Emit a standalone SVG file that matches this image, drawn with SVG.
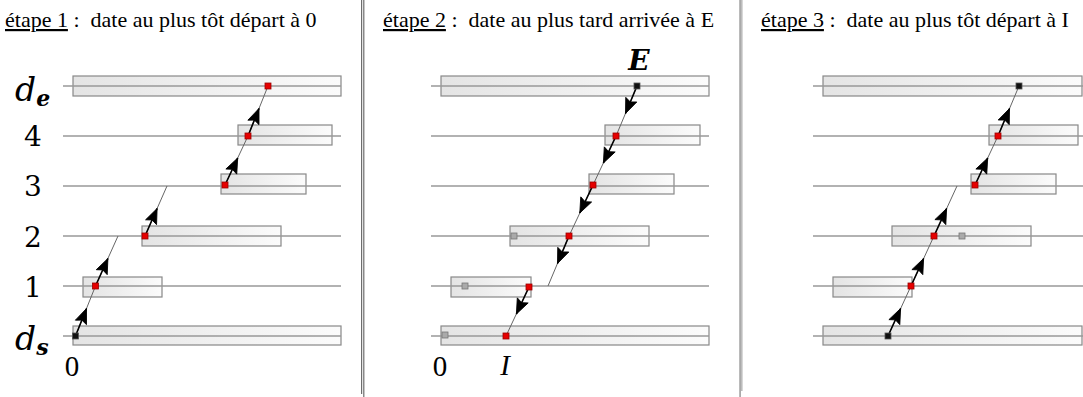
<svg xmlns="http://www.w3.org/2000/svg" width="1083" height="397" viewBox="0 0 1083 397">
<defs>
<linearGradient id="bg" x1="0" y1="0" x2="1" y2="0">
<stop offset="0" stop-color="#e4e4e4"/>
<stop offset="1" stop-color="#fbfbfb"/>
</linearGradient>
<marker id="ah" markerUnits="userSpaceOnUse" markerWidth="20" markerHeight="16" viewBox="-16 -8 17 16" refX="0" refY="0" orient="auto">
<path d="M0,0 L-15,-6 L-12.5,0 L-15,6 Z" fill="#000" stroke="#000" stroke-width="0.8" stroke-linejoin="miter"/>
</marker>
</defs>
<style>
.title{font-family:"Liberation Serif","Times New Roman",serif;font-size:22px;fill:#000;white-space:pre}
.num{font-family:"DejaVu Serif",serif;font-size:28px;fill:#000}
.mi{font-family:"DejaVu Serif",serif;font-style:italic;fill:#000}
.axis{font-family:"Liberation Serif","Times New Roman",serif;font-size:29px;fill:#000}
.row{stroke:#999;stroke-width:1.5;fill:none}
.bar{fill:url(#bg);stroke:#888;stroke-width:1.2}
.red{fill:#e60000;stroke:#900;stroke-width:0.8}
.blk{fill:#111;stroke:#555;stroke-width:0.8}
.gry{fill:#aaa;stroke:#777;stroke-width:0.8}
.thin{stroke:#666;stroke-width:1;fill:none}
.arr{stroke:#000;stroke-width:1.6;fill:none;marker-end:url(#ah)}
</style>
<rect width="1083" height="397" fill="#fff"/>

<g id="separators">
<rect x="361" y="0" width="1.2" height="394" fill="#6e6e6e"/>
<rect x="363.2" y="0" width="1.2" height="397" fill="#6e6e6e"/>
<rect x="739.2" y="0" width="1.8" height="397" fill="#aaa"/>
<rect x="741" y="0" width="1.6" height="391" fill="#bdbdbd"/>
</g>

<g id="titles">
<text class="title" x="5" y="27" xml:space="preserve"><tspan text-decoration="underline">étape 1</tspan> :  date au plus tôt départ à 0</text>
<text class="title" x="383" y="27" xml:space="preserve"><tspan text-decoration="underline">étape 2</tspan> :  date au plus tard arrivée à E</text>
<text class="title" x="761" y="27" xml:space="preserve"><tspan text-decoration="underline">étape 3</tspan> :  date au plus tôt départ à I</text>
</g>

<g id="labels">
<text class="mi" x="15" y="101" font-size="33">d<tspan font-size="22" font-weight="bold" dy="5">e</tspan></text>
<text class="num" x="33" y="146" text-anchor="middle">4</text>
<text class="num" x="33" y="196" text-anchor="middle">3</text>
<text class="num" x="33" y="247" text-anchor="middle">2</text>
<text class="num" x="33" y="297" text-anchor="middle">1</text>
<text class="mi" x="15" y="350" font-size="33">d<tspan font-size="22" font-weight="bold" dy="5">s</tspan></text>
<text class="axis" x="72" y="376" text-anchor="middle">0</text>
<text class="mi" x="639" y="70" font-size="28" font-weight="bold" text-anchor="middle" font-family="Liberation Serif">E</text>
<text class="axis" x="440" y="376" text-anchor="middle">0</text>
<text class="axis" x="505" y="375" text-anchor="middle" font-style="italic">I</text>
</g>

<!-- PANEL 1 -->
<g id="p1-rows">
<rect class="bar" x="73" y="76" width="268" height="20"/>
<rect class="bar" x="238" y="125" width="94" height="20"/>
<rect class="bar" x="221" y="174" width="85" height="20"/>
<rect class="bar" x="142" y="226" width="139" height="20"/>
<rect class="bar" x="83" y="277" width="79" height="20"/>
<rect class="bar" x="73" y="326" width="268" height="19"/>
<line class="row" x1="63" y1="86" x2="341" y2="86"/>
<line class="row" x1="63" y1="136" x2="341" y2="136"/>
<line class="row" x1="63" y1="186" x2="341" y2="186"/>
<line class="row" x1="63" y1="236" x2="341" y2="236"/>
<line class="row" x1="63" y1="286" x2="341" y2="286"/>
<line class="row" x1="63" y1="336" x2="341" y2="336"/>
</g>
<g id="p1-connectors">
<line class="thin" x1="75.5" y1="336" x2="95.5" y2="286"/>
<line class="arr" x1="75.5" y1="336" x2="86.5" y2="308.5"/>
<line class="thin" x1="95.5" y1="286" x2="118" y2="236"/>
<line class="arr" x1="95.5" y1="286" x2="107.9" y2="258.5"/>
<line class="thin" x1="145" y1="236" x2="167" y2="186"/>
<line class="arr" x1="145" y1="236" x2="157.1" y2="208.5"/>
<line class="thin" x1="225" y1="185" x2="248" y2="136"/>
<line class="arr" x1="225" y1="185" x2="237.7" y2="158"/>
<line class="thin" x1="248" y1="136" x2="268" y2="86"/>
<line class="arr" x1="248" y1="136" x2="259" y2="108.5"/>
</g>
<g id="p1-nodes">
<rect id="p1-de" class="red" x="265" y="83" width="6" height="6"/>
<rect id="p1-4" class="red" x="245" y="133" width="6" height="6"/>
<rect id="p1-3" class="red" x="222" y="182" width="6" height="6"/>
<rect id="p1-2" class="red" x="142" y="233" width="6" height="6"/>
<rect id="p1-1" class="red" x="92.5" y="283" width="6" height="6"/>
<rect id="p1-ds" class="blk" x="72.5" y="333" width="6" height="6"/>
</g>

<!-- PANEL 2 -->
<g id="p2-rows">
<rect class="bar" x="441" y="76" width="268" height="20"/>
<rect class="bar" x="605" y="125" width="95" height="20"/>
<rect class="bar" x="589" y="174" width="85" height="20"/>
<rect class="bar" x="510" y="226" width="139" height="20"/>
<rect class="bar" x="451" y="277" width="80" height="20"/>
<rect class="bar" x="441" y="326" width="268" height="19"/>
<line class="row" x1="431" y1="86" x2="709" y2="86"/>
<line class="row" x1="431" y1="136" x2="709" y2="136"/>
<line class="row" x1="431" y1="186" x2="709" y2="186"/>
<line class="row" x1="431" y1="236" x2="709" y2="236"/>
<line class="row" x1="431" y1="286" x2="709" y2="286"/>
<line class="row" x1="431" y1="336" x2="709" y2="336"/>
</g>
<g id="p2-connectors">
<line class="thin" x1="637" y1="86" x2="616" y2="136"/>
<line class="arr" x1="637" y1="86" x2="625.5" y2="113.5"/>
<line class="thin" x1="616" y1="136" x2="593" y2="185"/>
<line class="arr" x1="616" y1="136" x2="603.4" y2="163"/>
<line class="thin" x1="593" y1="185" x2="569" y2="236"/>
<line class="arr" x1="593" y1="185" x2="579.8" y2="213"/>
<line class="thin" x1="569" y1="236" x2="548" y2="286"/>
<line class="arr" x1="569" y1="236" x2="557.5" y2="263.5"/>
<line class="thin" x1="529" y1="287" x2="506" y2="336"/>
<line class="arr" x1="529" y1="287" x2="516.4" y2="314"/>
</g>
<g id="p2-nodes">
<rect id="p2-de" class="blk" x="634" y="83" width="6" height="6"/>
<rect id="p2-4" class="red" x="613" y="133" width="6" height="6"/>
<rect id="p2-3" class="red" x="590" y="182" width="6" height="6"/>
<rect id="p2-2g" class="gry" x="511" y="233" width="6" height="6"/>
<rect id="p2-2" class="red" x="566" y="233" width="6" height="6"/>
<rect id="p2-1g" class="gry" x="462" y="283" width="6" height="6"/>
<rect id="p2-1" class="red" x="526" y="284" width="6" height="6"/>
<rect id="p2-dsg" class="gry" x="442" y="332" width="6" height="6"/>
<rect id="p2-ds" class="red" x="503" y="333" width="6" height="6"/>
</g>

<!-- PANEL 3 -->
<g id="p3-rows">
<rect class="bar" x="823" y="76" width="259" height="20"/>
<rect class="bar" x="989" y="125" width="89" height="20"/>
<rect class="bar" x="971" y="174" width="85" height="20"/>
<rect class="bar" x="892" y="226" width="139" height="20"/>
<rect class="bar" x="833" y="277" width="79" height="20"/>
<rect class="bar" x="823" y="326" width="259" height="19"/>
<line class="row" x1="813" y1="86" x2="1083" y2="86"/>
<line class="row" x1="813" y1="136" x2="1083" y2="136"/>
<line class="row" x1="813" y1="186" x2="1083" y2="186"/>
<line class="row" x1="813" y1="236" x2="1083" y2="236"/>
<line class="row" x1="813" y1="286" x2="1083" y2="286"/>
<line class="row" x1="813" y1="336" x2="1083" y2="336"/>
</g>
<g id="p3-connectors">
<line class="thin" x1="888" y1="336" x2="911" y2="286"/>
<line class="arr" x1="888" y1="336" x2="900.6" y2="308.5"/>
<line class="thin" x1="911" y1="286" x2="934" y2="236"/>
<line class="arr" x1="911" y1="286" x2="923.6" y2="258.5"/>
<line class="thin" x1="934" y1="236" x2="957" y2="186"/>
<line class="arr" x1="934" y1="236" x2="946.6" y2="208.5"/>
<line class="thin" x1="975" y1="185" x2="998" y2="136"/>
<line class="arr" x1="975" y1="185" x2="987.7" y2="158"/>
<line class="thin" x1="998" y1="136" x2="1019" y2="86"/>
<line class="arr" x1="998" y1="136" x2="1009.5" y2="108.5"/>
</g>
<g id="p3-nodes">
<rect id="p3-de" class="blk" x="1016" y="83" width="6" height="6"/>
<rect id="p3-4" class="red" x="995" y="133" width="6" height="6"/>
<rect id="p3-3" class="red" x="972" y="182" width="6" height="6"/>
<rect id="p3-2" class="red" x="931" y="233" width="6" height="6"/>
<rect id="p3-2g" class="gry" x="959" y="233" width="6" height="6"/>
<rect id="p3-1" class="red" x="908" y="283" width="6" height="6"/>
<rect id="p3-ds" class="blk" x="885" y="333" width="6" height="6"/>
</g>
</svg>
